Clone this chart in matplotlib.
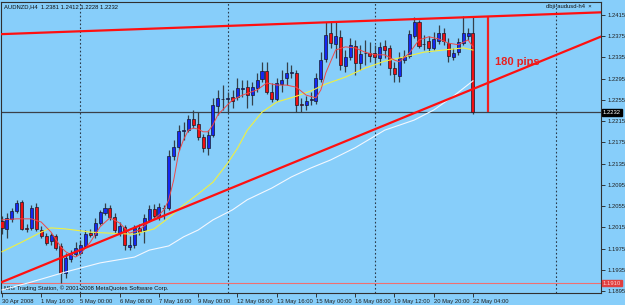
import numpy as np
import matplotlib
matplotlib.use('Agg')
import matplotlib.pyplot as plt
import matplotlib.transforms as mtrans

# AUDNZD H4 bars, 30 Apr 08:00 .. 22 May 04:00
opens = [1.2027, 1.2012, 1.2031, 1.2046, 1.2063, 1.2013, 1.2014, 1.2053, 1.2010, 1.1999,
         1.1989, 1.1999, 1.1980, 1.1929, 1.1955, 1.1965, 1.1967, 1.1980, 1.2004, 1.2001,
         1.2023, 1.2042, 1.2051, 1.2035, 1.2004, 1.2016, 1.1978, 1.1982, 1.2014, 1.2010,
         1.2029, 1.2050, 1.2035, 1.2051, 1.2051, 1.2149, 1.2166, 1.2197, 1.2198, 1.2219,
         1.2210, 1.2185, 1.2164, 1.2189, 1.2244, 1.2257, 1.2257, 1.2261, 1.2261, 1.2276,
         1.2279, 1.2264, 1.2278, 1.2295, 1.2310, 1.2270, 1.2257, 1.2285, 1.2296, 1.2306,
         1.2306, 1.2247, 1.2246, 1.2255, 1.2253, 1.2295, 1.2332, 1.2381, 1.2360, 1.2374,
         1.2319, 1.2336, 1.2357, 1.2325, 1.2343, 1.2343, 1.2343, 1.2334, 1.2357, 1.2353,
         1.2315, 1.2300, 1.2330, 1.2338, 1.2375, 1.2402, 1.2360, 1.2366, 1.2353, 1.2366,
         1.2381, 1.2362, 1.2336, 1.2345, 1.2362, 1.2375, 1.2381]
highs = [1.2036, 1.2042, 1.2051, 1.2067, 1.2067, 1.2021, 1.2057, 1.2061, 1.2018, 1.2004,
         1.2004, 1.2002, 1.1986, 1.1967, 1.1972, 1.1987, 1.1991, 1.2010, 1.2012, 1.2033,
         1.2048, 1.2061, 1.2057, 1.2042, 1.2025, 1.2019, 1.1999, 1.2019, 1.2021, 1.2040,
         1.2057, 1.2059, 1.2061, 1.2057, 1.2161, 1.2180, 1.2208, 1.2213, 1.2227, 1.2236,
         1.2232, 1.2191, 1.2198, 1.2259, 1.2274, 1.2283, 1.2270, 1.2274, 1.2296, 1.2293,
         1.2293, 1.2289, 1.2306, 1.2327, 1.2327, 1.2287, 1.2296, 1.2311, 1.2327, 1.2321,
         1.2311, 1.2259, 1.2262, 1.2270, 1.2306, 1.2345, 1.2402, 1.2402, 1.2402, 1.2387,
         1.2349, 1.2372, 1.2368, 1.2359, 1.2368, 1.2364, 1.2359, 1.2364, 1.2368, 1.2359,
         1.2327, 1.2345, 1.2349, 1.2387, 1.2411, 1.2406, 1.2377, 1.2375, 1.2383, 1.2396,
         1.2391, 1.2372, 1.2353, 1.2372, 1.2413, 1.2391, 1.2412]
lows = [1.2002, 1.1995, 1.2025, 1.2042, 1.2010, 1.2006, 1.2010, 1.2008, 1.1995, 1.1982,
        1.1982, 1.1972, 1.1910, 1.1920, 1.1950, 1.1961, 1.1963, 1.1976, 1.1997, 1.1995,
        1.2019, 1.2038, 1.2029, 1.2004, 1.1999, 1.1972, 1.1972, 1.1976, 1.2001, 1.1986,
        1.2025, 1.2033, 1.2029, 1.2031, 1.2048, 1.2142, 1.2161, 1.2180, 1.2195, 1.2202,
        1.2180, 1.2157, 1.2151, 1.2185, 1.2227, 1.2236, 1.2232, 1.2240, 1.2255, 1.2261,
        1.2240, 1.2246, 1.2270, 1.2289, 1.2266, 1.2251, 1.2253, 1.2270, 1.2283, 1.2296,
        1.2232, 1.2232, 1.2236, 1.2246, 1.2247, 1.2289, 1.2327, 1.2353, 1.2334, 1.2311,
        1.2308, 1.2330, 1.2302, 1.2311, 1.2321, 1.2327, 1.2321, 1.2321, 1.2334, 1.2302,
        1.2289, 1.2289, 1.2325, 1.2334, 1.2372, 1.2353, 1.2349, 1.2345, 1.2349, 1.2360,
        1.2359, 1.2327, 1.2330, 1.2340, 1.2359, 1.2368, 1.2228]
closes = [1.2014, 1.2033, 1.2046, 1.2061, 1.2012, 1.2012, 1.2051, 1.2012, 1.1999, 1.1986,
          1.2001, 1.1976, 1.1929, 1.1957, 1.1967, 1.1976, 1.1982, 1.2002, 1.2001, 1.2023,
          1.2044, 1.2051, 1.2035, 1.2010, 1.2018, 1.1982, 1.1982, 1.2014, 1.2006, 1.2033,
          1.2050, 1.2036, 1.2053, 1.2052, 1.2149, 1.2166, 1.2197, 1.2198, 1.2219, 1.2208,
          1.2185, 1.2164, 1.2189, 1.2246, 1.2259, 1.2257, 1.2258, 1.2253, 1.2278, 1.2278,
          1.2264, 1.2279, 1.2293, 1.2310, 1.2270, 1.2257, 1.2287, 1.2293, 1.2306, 1.2307,
          1.2246, 1.2246, 1.2253, 1.2256, 1.2296, 1.2330, 1.2377, 1.2362, 1.2375, 1.2321,
          1.2336, 1.2359, 1.2325, 1.2342, 1.2344, 1.2338, 1.2336, 1.2355, 1.2349, 1.2315,
          1.2304, 1.2334, 1.2338, 1.2379, 1.2402, 1.2357, 1.2361, 1.2353, 1.2370, 1.2381,
          1.2366, 1.2338, 1.2343, 1.2364, 1.2381, 1.2381, 1.2232]

# moving averages (bar index, price)
fast_ma_idx = [0, 3, 6, 8, 10, 12, 13, 15, 16, 18, 20, 22, 24, 26, 28, 30, 32, 33, 34, 35,
               36, 37, 38, 39, 40, 41, 42, 43, 44, 46, 47, 49, 52, 54, 56, 58, 60, 62, 64,
               65, 66, 68, 70, 72, 74, 76, 78, 80, 81, 83, 85, 87, 89, 91, 93, 95, 96]
fast_ma = [1.2029, 1.2031, 1.2031, 1.2025, 1.2006, 1.1978, 1.1969, 1.1959, 1.1965, 1.1987,
           1.2016, 1.2033, 1.2023, 1.2004, 1.2010, 1.2025, 1.2038, 1.2048, 1.2067, 1.2104,
           1.2155, 1.2180, 1.2198, 1.2202, 1.2200, 1.2195, 1.2195, 1.2208, 1.2227, 1.2246,
           1.2255, 1.2264, 1.2274, 1.2287, 1.2283, 1.2283, 1.2279, 1.2264, 1.2259, 1.2274,
           1.2306, 1.2349, 1.2355, 1.2353, 1.2345, 1.2340, 1.2340, 1.2330, 1.2327, 1.2343,
           1.2368, 1.2374, 1.2370, 1.2362, 1.2359, 1.2368, 1.2355]
mid_ma_idx = [0, 4, 8, 10, 13, 18, 22, 27, 31, 34, 37, 40, 43, 46, 48, 50, 53, 56, 60, 63,
              66, 70, 74, 78, 82, 86, 90, 94, 96]
mid_ma = [1.1969, 1.1987, 1.2006, 1.2014, 1.2012, 1.2006, 1.2004, 1.2002, 1.2012, 1.2033,
          1.2057, 1.2078, 1.2100, 1.2136, 1.2164, 1.2198, 1.2232, 1.2251, 1.2262, 1.2272,
          1.2285, 1.2298, 1.2315, 1.2328, 1.2336, 1.2345, 1.2349, 1.2353, 1.2349]
slow_ma_idx = [0, 6, 13, 20, 27, 30, 34, 37, 40, 43, 47, 50, 55, 59, 63, 67, 72, 78, 84,
               88, 92, 96]
slow_ma = [1.1897, 1.1912, 1.1931, 1.1948, 1.1959, 1.1972, 1.1980, 1.1997, 1.2010, 1.2029,
           1.2048, 1.2067, 1.2089, 1.2110, 1.2127, 1.2142, 1.2165, 1.2198, 1.2217, 1.2236,
           1.2262, 1.2291]

# trend lines (two anchor points each)
upper_x = [0, 122]
upper_y = [1.2379, 1.2420]
lower_x = [0, 122]
lower_y = [1.1912, 1.2374]

bid = 1.2232
low_level = 1.1910
pips_x = 99
pips_top, pips_bottom = 1.2411, 1.2232

separators = [16, 46, 76, 113]
xtick_idx = [0, 8, 16, 24, 32, 40, 48, 56, 64, 72, 80, 88, 96]
xtick_lab = ['30 Apr 2008', '1 May 16:00', '5 May 00:00', '6 May 08:00', '7 May 16:00',
             '9 May 00:00', '12 May 08:00', '13 May 16:00', '15 May 00:00', '16 May 08:00',
             '19 May 12:00', '20 May 20:00', '22 May 04:00']
yticks = [1.1895, 1.1935, 1.1975, 1.2015, 1.2055, 1.2095, 1.2135, 1.2175, 1.2215,
          1.2255, 1.2295, 1.2335, 1.2375, 1.2415]

BG = '#87CEFA'
plt.rcParams['font.family'] = ['Liberation Sans', 'DejaVu Sans']
FS = 4.2

fig = plt.figure(figsize=(6.25, 3.05), dpi=100)
fig.patch.set_facecolor(BG)
ax = fig.add_axes([1 / 625, 12 / 305, 600 / 625, 291 / 305])
ax.set_facecolor(BG)
ax.set_xlim(-0.2, 122.1)
ax.set_ylim(1.18913, 1.24395)

o = np.array(opens); h = np.array(highs); l = np.array(lows); c = np.array(closes)
idx = np.arange(len(o))
up = c >= o
lo = np.minimum(o, c)
hgt = np.maximum(np.abs(c - o), 0.00004)

for s in separators:
    ax.axvline(s, color='#2a3a4a', lw=0.8, ls=(0, (1.5, 2)), zorder=1)
ax.axhline(bid, color='#3a4048', lw=0.9, zorder=2)
ax.axhline(low_level, color='#f07070', lw=0.8, zorder=2)

ax.vlines(idx, l, h, color='#34404a', lw=0.9, zorder=3)
ax.bar(idx, hgt, bottom=lo, width=0.62, color=np.where(up, '#1428f0', '#f01010'),
       edgecolor='#1a1a2a', linewidth=0.5, zorder=4)

ax.plot(slow_ma_idx, slow_ma, color='#f4f8ff', lw=0.8, zorder=5)
ax.plot(mid_ma_idx, mid_ma, color='#f0f040', lw=0.8, zorder=5)
ax.plot(fast_ma_idx, fast_ma, color='#f04848', lw=0.7, zorder=5)

ax.plot(upper_x, upper_y, color='#ff1010', lw=1.6, zorder=6)
ax.plot(lower_x, lower_y, color='#ff1010', lw=1.6, zorder=6)

ax.vlines(pips_x, pips_bottom, pips_top, color='#f02020', lw=1.6, zorder=6)
ax.text(100.5, 1.2327, '180 pips', color='#e82020', fontsize=8, fontweight='bold',
        va='center', ha='left', zorder=7)

ax.text(0.005, 0.983, 'AUDNZD,H4  1.2381 1.2412 1.2228 1.2232', transform=ax.transAxes,
        fontsize=FS, va='center', ha='left', color='#101010')
ax.text(0.005, 0.018, 'MIG Trading Station, \u00a9 2001-2008 MetaQuotes Software Corp.',
        transform=ax.transAxes, fontsize=FS, va='center', ha='left', color='#101010')
ax.text(0.985, 0.983, 'dbji-audusd-h4  \u00d7', transform=ax.transAxes,
        fontsize=FS, va='center', ha='right', color='#101010')

ax.yaxis.tick_right()
ax.set_yticks(yticks)
ax.set_yticklabels(['%.4f' % v for v in yticks])
ax.set_xticks(xtick_idx)
ax.set_xticklabels(xtick_lab, ha='left')
ax.tick_params(axis='both', direction='out', length=3, width=0.6, colors='#202020',
               labelsize=FS, pad=1.5)
for sp in ax.spines.values():
    sp.set_color('#303030')
    sp.set_linewidth(0.8)

tr = mtrans.blended_transform_factory(ax.transAxes, ax.transData)
ax.text(1.003, bid, '%.4f' % bid, transform=tr, fontsize=FS, color='white', va='center',
        ha='left', bbox=dict(boxstyle='square,pad=0.15', fc='black', ec='black'),
        clip_on=False, zorder=8)
ax.text(1.003, low_level, '%.4f' % low_level, transform=tr, fontsize=FS, color='#ffd0d0',
        va='center', ha='left', bbox=dict(boxstyle='square,pad=0.15', fc='#e04040', ec='#e04040'),
        clip_on=False, zorder=8)

fig.savefig('out.png', dpi=100, facecolor=BG)
